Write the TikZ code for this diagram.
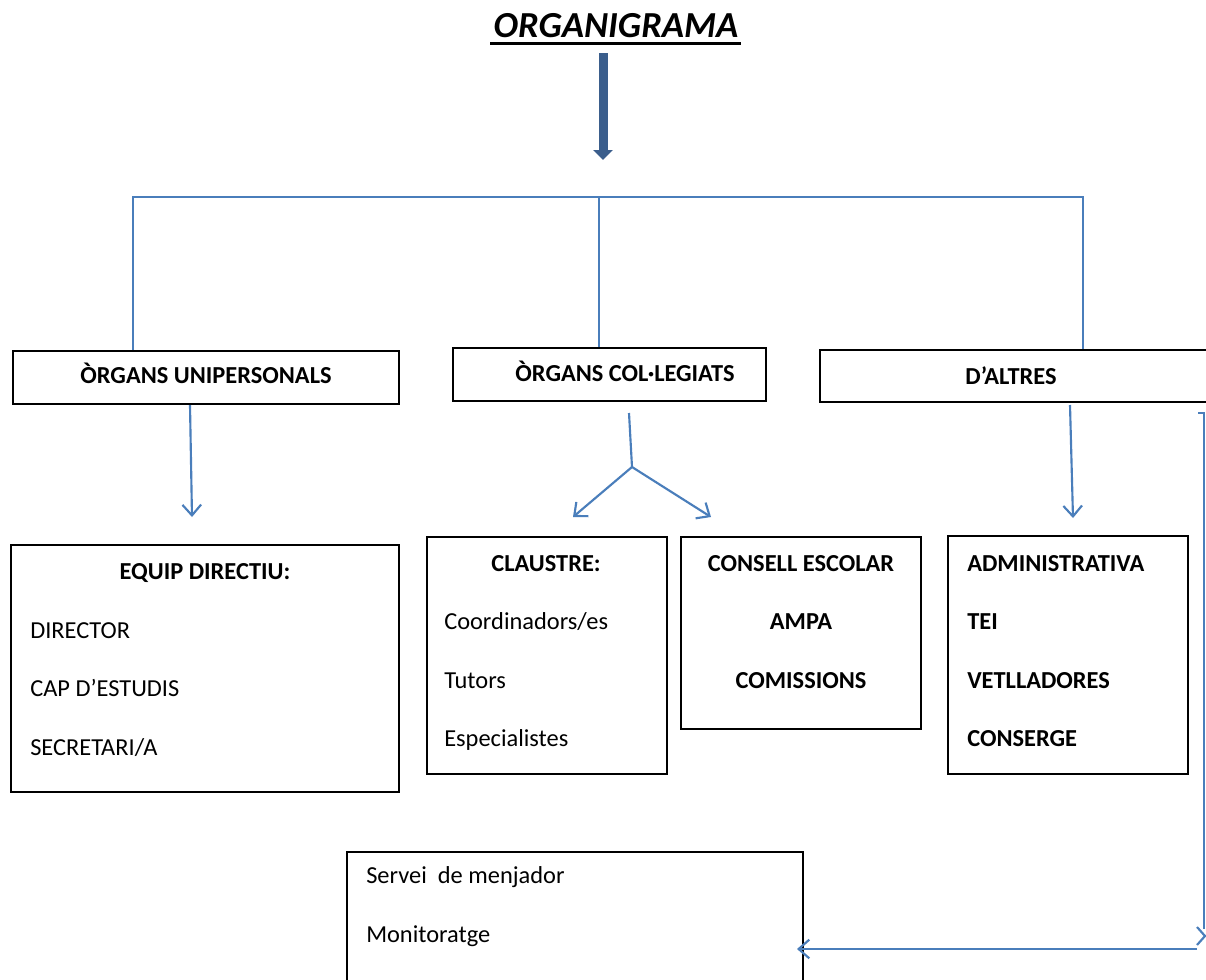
\documentclass[tikz,border=0pt]{standalone}
\usepackage{fontspec}
\setmainfont{Carlito}
\usetikzlibrary{arrows.meta}
\definecolor{connblue}{HTML}{4A7EBB}
\definecolor{bigblue}{HTML}{3B5E8C}
\begin{document}
\begin{tikzpicture}[x=0.75pt,y=-0.75pt,
  box/.style={draw=black,line width=2.1pt,inner sep=0pt},
  conn/.style={draw=connblue,line width=1.6pt},
  arr/.style={conn,-{Straight Barb[length=8pt,width=14pt,line width=1.6pt]}},
  txt/.style={font=\fontsize{18.3}{22}\selectfont,inner sep=0pt},
  btxt/.style={font=\fontsize{18.3}{22}\selectfont\bfseries,inner sep=0pt},
  ttl/.style={font=\fontsize{18.3}{22}\selectfont\bfseries,inner sep=0pt,anchor=base}]
\clip (0,0) rectangle (1206,979);
\fill[white] (0,0) rectangle (1206,979);

% title
\node[font=\fontsize{27.5}{30}\selectfont\bfseries\itshape,inner sep=0pt,anchor=base] (title) at (616,37.5) {ORGANIGRAMA};
\draw[line width=2.4pt] ([yshift=-6*0.75pt,xshift=-3*0.75pt]title.base west) -- ([yshift=-6*0.75pt,xshift=2*0.75pt]title.base east);
\coordinate (a0) at (603,53);
\coordinate (a1) at (603,160);
\draw[draw=bigblue,line width=6.75pt,-{Triangle[length=7.5pt,width=14.5pt]}] (a0) -- (a1);

% top boxes
\node[box,minimum width=386*0.75pt,minimum height=53*0.75pt] (uni) at (206,377.5) {};
\node[box,minimum width=313*0.75pt,minimum height=53*0.75pt] (col) at (609.5,374.5) {};
\node[box,minimum width=400*0.75pt,minimum height=52*0.75pt] (alt) at (1020,376) {};
\node[ttl] (tuni) at (206,383) {ÒRGANS UNIPERSONALS};
\node[ttl] (tcol) at (625,381) {ÒRGANS COL·LEGIATS};
\node[ttl] (talt) at (1011,384) {D’ALTRES};

% bus
\coordinate (b1) at (133,197);
\coordinate (b2) at (599,197);
\coordinate (b3) at (1083,197);
\draw[conn] (uni.north -| b1) -- (b1) -- (b3) -- (alt.north -| b3);
\draw[conn] (b2) -- (col.north -| b2);

% lower boxes
\node[box,minimum width=388*0.75pt,minimum height=247*0.75pt] (equip) at (205,668.5) {};
\node[box,minimum width=240*0.75pt,minimum height=237*0.75pt] (claus) at (547,655.5) {};
\node[box,minimum width=240*0.75pt,minimum height=192*0.75pt] (cons) at (801,633) {};
\node[box,minimum width=240*0.75pt,minimum height=238*0.75pt] (adm) at (1068,655) {};
\node[box,minimum width=456*0.75pt,minimum height=160*0.75pt] (serv) at (575,932) {};

% arrows
\coordinate (u0) at (190,405);
\coordinate (u1) at (192,517);
\draw[arr] (u0) -- (u1);
\coordinate (c0) at (629,413);
\coordinate (cj) at (632,467);
\coordinate (cl) at (573,517);
\coordinate (cr) at (711,517);
\draw[conn] (c0) -- (cj);
\draw[arr] (cj) -- (cl);
\draw[arr] (cj) -- (cr);
\coordinate (d0) at (1070,405);
\coordinate (d1) at (1073,518);
\draw[arr] (d0) -- (d1);
\coordinate (r0) at (1198,413);
\coordinate (r1) at (1204,413);
\coordinate (r2) at (1204,929);
\draw[conn] (r0) -- (r1) -- (r2);
\coordinate (k0) at (1197,927);
\coordinate (k1) at (1205,936);
\coordinate (k2) at (1197,945);
\draw[conn] (k0) -- (k1) -- (k2);
\coordinate (h0) at (1197,949);
\coordinate (h1) at (797,949);
\draw[arr] (h0) -- (h1);

% texts
\node[btxt,anchor=base] (e0) at (205,579) {EQUIP DIRECTIU:};
\node[txt,anchor=base west] (e1) at (30,638) {DIRECTOR};
\node[txt,anchor=base west] (e2) at (30,696.5) {CAP D’ESTUDIS};
\node[txt,anchor=base west] (e3) at (30,755) {SECRETARI/A};

\node[btxt,anchor=base] (k0t) at (546,571) {CLAUSTRE:};
\node[txt,anchor=base west] (k1t) at (444,629) {Coordinadors/es};
\node[txt,anchor=base west] (k2t) at (444,688) {Tutors};
\node[txt,anchor=base west] (k3t) at (444,746) {Especialistes};

\node[btxt,anchor=base] (s0) at (801,571) {CONSELL ESCOLAR};
\node[btxt,anchor=base] (s1) at (801,629) {AMPA};
\node[btxt,anchor=base] (s2) at (801,688) {COMISSIONS};

\node[btxt,anchor=base west] (m0) at (967,571) {ADMINISTRATIVA};
\node[btxt,anchor=base west] (m1) at (967,629) {TEI};
\node[btxt,anchor=base west] (m2) at (967,688) {VETLLADORES};
\node[btxt,anchor=base west] (m3) at (967,746) {CONSERGE};

\node[txt,anchor=base west] (v0) at (366,883) {Servei\ \ de menjador};
\node[txt,anchor=base west] (v1) at (366,942) {Monitoratge};
\end{tikzpicture}
\end{document}
